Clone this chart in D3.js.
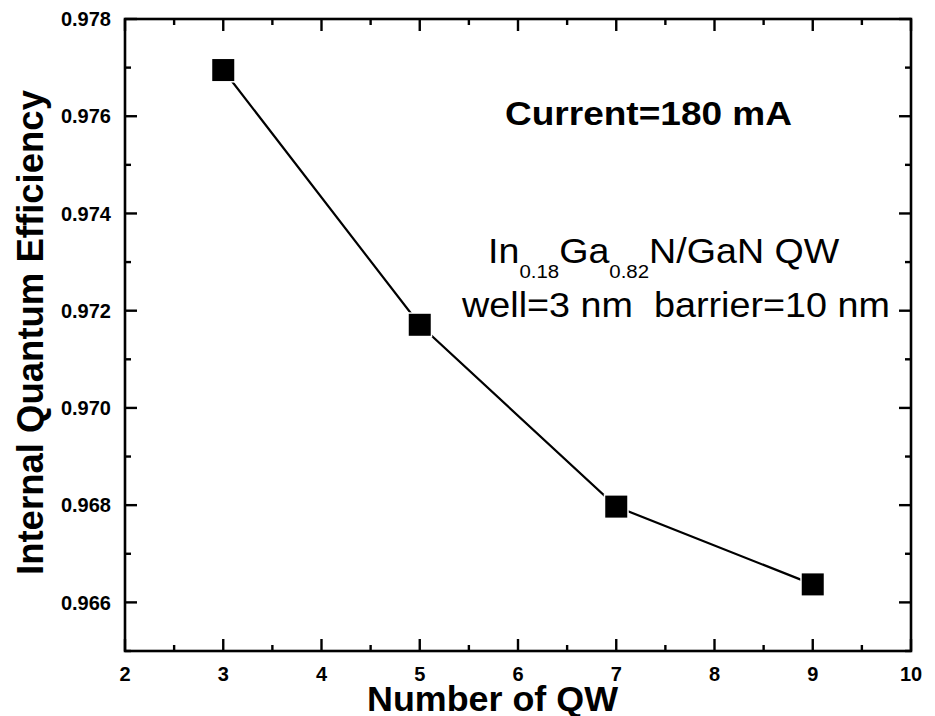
<!DOCTYPE html>
<html>
<head>
<meta charset="utf-8">
<script src="https://cdn.jsdelivr.net/npm/d3@7"></script>
<style>
  html, body { margin: 0; padding: 0; background: #fff; }
  svg { display: block; font-family: Arial, "Liberation Sans", sans-serif; }
</style>
</head>
<body>
<svg id="chart" width="935" height="716"></svg>
<script>
// Number of quantum wells and the resulting internal quantum efficiency
const wellCounts = [3, 5, 7, 9];
const iqeValues = [0.97695, 0.97171, 0.96797, 0.96637];

// Axis ticks
const xMajorTicks = [2, 3, 4, 5, 6, 7, 8, 9, 10];
const xMinorTicks = [2.5, 3.5, 4.5, 5.5, 6.5, 7.5, 8.5, 9.5];
const yMajorTicks = [0.966, 0.968, 0.970, 0.972, 0.974, 0.976, 0.978];
const yMinorTicks = [0.965, 0.967, 0.969, 0.971, 0.973, 0.975, 0.977];

const svg = d3.select("#chart");
const plotLeft = 125, plotRight = 911, plotTop = 19, plotBottom = 651;

const x = d3.scaleLinear().domain([2, 10]).range([plotLeft, plotRight]);
const y = d3.scaleLinear().domain([0.965, 0.978]).range([plotBottom, plotTop]);

const majorLen = 12, minorLen = 6;

// Frame
svg.append("rect")
  .attr("x", plotLeft).attr("y", plotTop)
  .attr("width", plotRight - plotLeft).attr("height", plotBottom - plotTop)
  .attr("fill", "none").attr("stroke", "#000").attr("stroke-width", 2.6);

const ticks = svg.append("g").attr("stroke", "#000").attr("stroke-width", 2.4);

// Inward ticks on all four sides
xMajorTicks.concat(xMinorTicks).forEach(v => {
  const len = xMajorTicks.includes(v) ? majorLen : minorLen;
  ticks.append("line").attr("x1", x(v)).attr("x2", x(v)).attr("y1", plotBottom).attr("y2", plotBottom - len);
  ticks.append("line").attr("x1", x(v)).attr("x2", x(v)).attr("y1", plotTop).attr("y2", plotTop + len);
});
yMajorTicks.concat(yMinorTicks).forEach(v => {
  const len = yMajorTicks.includes(v) ? majorLen : minorLen;
  ticks.append("line").attr("y1", y(v)).attr("y2", y(v)).attr("x1", plotLeft).attr("x2", plotLeft + len);
  ticks.append("line").attr("y1", y(v)).attr("y2", y(v)).attr("x1", plotRight).attr("x2", plotRight - len);
});

// Tick labels
svg.append("g").selectAll("text").data(xMajorTicks).join("text")
  .attr("x", d => x(d)).attr("y", 681)
  .attr("text-anchor", "middle")
  .attr("font-size", 20).attr("font-weight", "bold")
  .text(d => d);

svg.append("g").selectAll("text").data(yMajorTicks).join("text")
  .attr("x", plotLeft - 14).attr("y", d => y(d))
  .attr("dy", "0.36em")
  .attr("text-anchor", "end")
  .attr("font-size", 20).attr("font-weight", "bold")
  .text(d => d3.format(".3f")(d));

// Axis titles
svg.append("text")
  .attr("x", 367).attr("y", 711)
  .attr("font-size", 35).attr("font-weight", "bold")
  .attr("textLength", 251).attr("lengthAdjust", "spacingAndGlyphs")
  .text("Number of QW");

svg.append("text")
  .attr("transform", "translate(43,575) rotate(-90)")
  .attr("font-size", 36).attr("font-weight", "bold")
  .attr("textLength", 485).attr("lengthAdjust", "spacingAndGlyphs")
  .text("Internal Quantum Efficiency");

// Data line and square markers
const pts = wellCounts.map((n, i) => [n, iqeValues[i]]);
svg.append("path")
  .datum(pts)
  .attr("fill", "none").attr("stroke", "#000").attr("stroke-width", 2.2)
  .attr("d", d3.line().x(d => x(d[0])).y(d => y(d[1])));

const sq = 22;
svg.append("g").selectAll("rect").data(pts).join("rect")
  .attr("x", d => x(d[0]) - sq / 2).attr("y", d => y(d[1]) - sq / 2)
  .attr("width", sq).attr("height", sq)
  .attr("fill", "#000").attr("stroke", "#fff").attr("stroke-width", 3)
  .attr("paint-order", "stroke");

// Annotations
svg.append("text")
  .attr("x", 505).attr("y", 125)
  .attr("font-size", 34).attr("font-weight", "bold")
  .attr("textLength", 287).attr("lengthAdjust", "spacingAndGlyphs")
  .text("Current=180 mA");

const comp = svg.append("g").attr("transform", "translate(488,263) scale(1.075,1)");
const compText = comp.append("text").attr("x", 0).attr("y", 0).attr("font-size", 35);
compText.append("tspan").text("In");
compText.append("tspan").attr("font-size", 19).attr("dy", 15).text("0.18");
compText.append("tspan").attr("dy", -15).text("Ga");
compText.append("tspan").attr("font-size", 19).attr("dy", 15).text("0.82");
compText.append("tspan").attr("dy", -15).text("N/GaN QW");

svg.append("text")
  .attr("x", 462).attr("y", 317)
  .attr("font-size", 35)
  .attr("textLength", 428).attr("lengthAdjust", "spacingAndGlyphs")
  .style("white-space", "pre")
  .text("well=3 nm  barrier=10 nm");
</script>
</body>
</html>
